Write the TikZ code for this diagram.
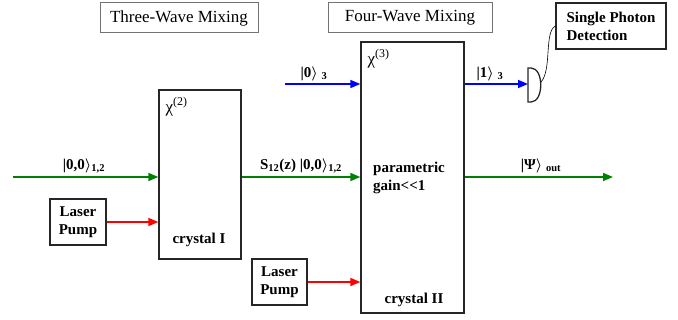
\documentclass[tikz,border=0pt]{standalone}
\usepackage{fontspec}
\setmainfont{Liberation Serif}
\usetikzlibrary{arrows.meta,positioning}
\definecolor{beamgreen}{RGB}{0,128,0}
\definecolor{beamblue}{RGB}{0,0,255}
\definecolor{beamred}{RGB}{255,0,0}
\tikzset{
  titlebox/.style={draw=black!55, line width=1pt, inner sep=0pt, font=\fontsize{17}{19}\selectfont},
  crystal/.style={draw=black!85, line width=1.3pt, inner sep=0pt},
  pumpbox/.style={draw=black!85, line width=1.3pt, inner sep=0pt, align=center, font=\fontsize{15}{18}\selectfont\bfseries},
  beam/.style={line width=1.6pt, -{Triangle[length=10pt,width=8pt]}},
  lbl/.style={inner sep=0pt, font=\fontsize{15}{18}\selectfont\bfseries\boldmath},
}
\begin{document}
\begin{tikzpicture}[x=1pt, y=-1pt]
  \useasboundingbox (0,0) rectangle (678,320);
  % titles
  \node[titlebox, minimum width=158pt, minimum height=30pt] (twm) at (179,18) {Three-Wave Mixing};
  \node[titlebox, minimum width=164pt, minimum height=30pt] (fwm) at (410,18) {Four-Wave Mixing};
  % crystals
  \node[crystal, minimum width=82pt, minimum height=169pt] (c1) at (200,174.5) {};
  \node[crystal, minimum width=103pt, minimum height=271pt] (c2) at (412.5,177.5) {};
  \node[anchor=north west, inner sep=0pt, font=\fontsize{17}{19}\selectfont] (chi2) at ([xshift=7pt,yshift=-8pt]c1.north west) {χ\textsuperscript{(2)}};
  \node[anchor=north west, inner sep=0pt, font=\fontsize{17}{19}\selectfont] (chi3) at ([xshift=7pt,yshift=-8pt]c2.north west) {χ\textsuperscript{(3)}};
  \node[lbl] (cr1) at (199,240) {crystal I};
  \node[lbl] (cr2) at (414,300) {crystal II};
  \node[lbl, anchor=west, align=left] (gain) at (373,178) {parametric\\gain{<}{<}1};
  % pumps
  \node[pumpbox, minimum width=56pt, minimum height=46pt] (pump1) at (78,222) {Laser\\Pump};
  \node[pumpbox, minimum width=55pt, minimum height=46pt] (pump2) at (279.5,282) {Laser\\Pump};
  % detector
  \node[pumpbox, minimum width=110pt, minimum height=46pt, align=left] (spd) at (611,26) {Single Photon\\Detection\hspace{12pt}\,};
  \coordinate (det) at (528,84);
  \draw[line width=1.3pt, black!85] (528,68) -- (528,102) -- (531,102)
    .. controls (544,102) and (544,68) .. (531,68) -- cycle;
  \draw[line width=0.6pt] (541,82) .. controls (552,70) and (544,32) .. (spd.west);
  % beams
  \coordinate (in12) at (13,177);
  \coordinate (in3) at (285,84);
  \coordinate (out) at (613,177);
  \draw[beam, beamgreen] (in12) -- (in12 -| c1.west);
  \draw[beam, beamgreen] (c1.east |- in12) -- (c2.west |- in12);
  \draw[beam, beamgreen] (c2.east |- out) -- (out);
  \draw[beam, beamred] (pump1.east) -- (pump1.east -| c1.west);
  \draw[beam, beamred] (pump2.east) -- (pump2.east -| c2.west);
  \draw[beam, beamblue] (in3) -- (in3 -| c2.west);
  \draw[beam, beamblue] (c2.east |- det) -- (det);
  % labels
  \node[lbl] (l12) at (84,166) {|0,0$\rangle$\textsubscript{1,2}};
  \node[lbl] (ls) at (301,166) {S\textsubscript{12}(z) |0,0$\rangle$\textsubscript{1,2}};
  \node[lbl] (l3in) at (314,74) {|0$\rangle$ \textsubscript{3}};
  \node[lbl] (l3out) at (490,74) {|1$\rangle$ \textsubscript{3}};
  \node[lbl] (lpsi) at (541,166) {|Ψ$\rangle$ \textsubscript{out}};
\end{tikzpicture}
\end{document}
